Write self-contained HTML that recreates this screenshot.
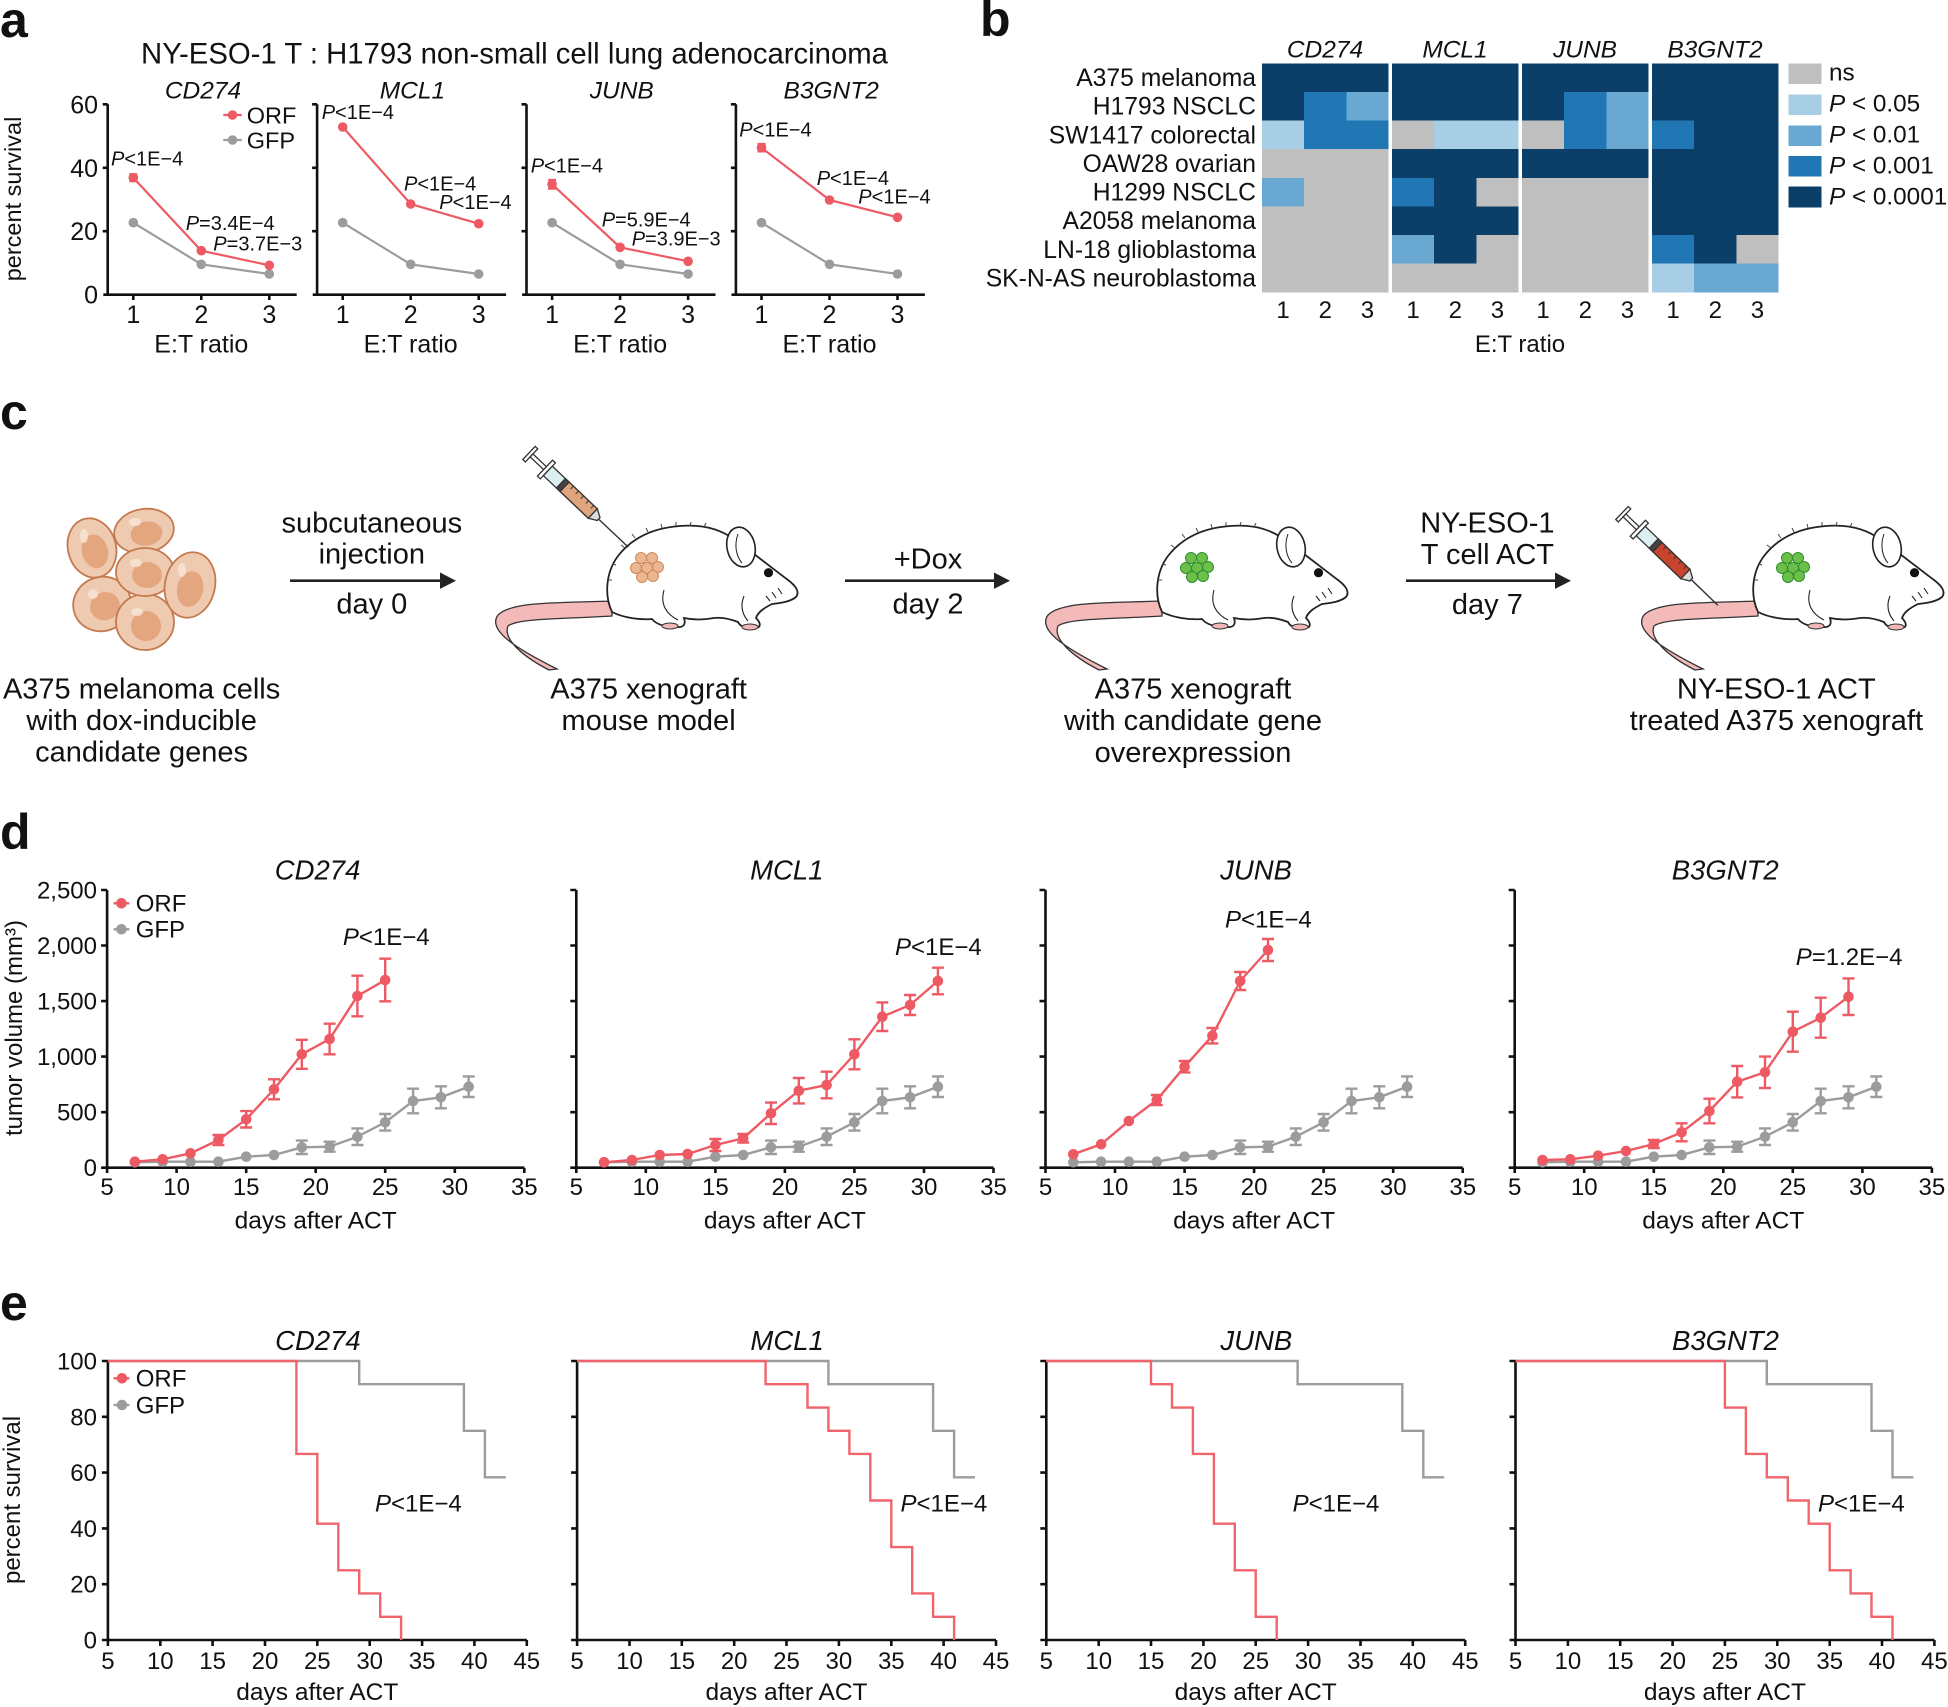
<!DOCTYPE html>
<html><head><meta charset="utf-8"><style>
html,body{margin:0;padding:0;background:#fff}
svg{display:block}
text{font-family:"Liberation Sans",Arial,Helvetica,sans-serif;fill:#111}
.it{font-style:italic}
</style></head><body>
<svg width="1948" height="1707" viewBox="0 0 1948 1707" xmlns="http://www.w3.org/2000/svg">
<rect width="1948" height="1707" fill="#fff"/>
<defs>
<g id="mouse">
  <path d="M612,601 C560,603 512,601 498,615 C487,630 515,648 557,669 L549,670 C520,655 503,638 508,626 C518,618 565,619 612,616 Z" fill="#f4b9b9" stroke="#333" stroke-width="1.3"/>
  <path d="M612,612 C604,595 606,572 618,556 C632,538 652,528 680,526 C705,524 722,530 735,540 C752,552 772,568 788,580 C796,586 800,592 796,597 C790,602 780,603 772,604 C764,608 758,612 756,618 C760,622 762,627 756,628 C748,629 740,627 738,622 C730,619 722,617 714,618 C702,620 694,620 684,618 C686,624 684,628 676,627 C664,627 656,624 652,619 C640,620 624,618 612,612 Z" fill="#fff" stroke="#222" stroke-width="1.8"/>
  <ellipse cx="741" cy="547" rx="14" ry="20" transform="rotate(-12 741 547)" fill="#fff" stroke="#222" stroke-width="1.6"/>
  <path d="M738,534 C734,545 736,556 742,563" fill="none" stroke="#222" stroke-width="1"/>
  <circle cx="768.5" cy="572.7" r="4.6" fill="#111"/>
  <path d="M664,590 C660,604 666,614 678,620 M744,596 C740,606 742,614 748,621 M778,588 l4,6 M772,592 l4,6 M766,596 l4,5" fill="none" stroke="#222" stroke-width="1.1"/>
  <path d="M625,548 l-4,-3 M635,538 l-3,-4 M648,532 l-2,-4 M662,528 l-1,-4 M676,526 l0,-4 M690,526 l1,-4 M704,527 l2,-4 M616,565 l-4,-1 M612,580 l-4,0" fill="none" stroke="#444" stroke-width="1"/>
  <ellipse cx="670" cy="626" rx="8" ry="3" fill="#f1b6b6" stroke="#333" stroke-width="1"/>
  <ellipse cx="750" cy="627" rx="8" ry="3" fill="#f1b6b6" stroke="#333" stroke-width="1"/>
</g>
<g id="cluster">
  <circle cx="641" cy="558" r="5.5"/><circle cx="652" cy="558" r="5.5"/>
  <circle cx="636" cy="568" r="5.5"/><circle cx="647" cy="568" r="5.5"/><circle cx="658" cy="567" r="5.5"/>
  <circle cx="642" cy="577" r="5.5"/><circle cx="653" cy="576" r="5.5"/>
</g>
</defs>

<!-- ===== Panel labels ===== -->
<text x="0" y="37" font-size="50" font-weight="bold">a</text>
<text x="980" y="36" font-size="50" font-weight="bold">b</text>
<text x="0" y="429" font-size="50" font-weight="bold">c</text>
<text x="0" y="849" font-size="50" font-weight="bold">d</text>
<text x="0" y="1320" font-size="50" font-weight="bold">e</text>

<!-- ===== Panel a ===== -->
<text x="514.5" y="63.3" font-size="29.3" text-anchor="middle">NY-ESO-1 T : H1793 non-small cell lung adenocarcinoma</text>
<text transform="translate(21,199) rotate(-90)" font-size="23.5" text-anchor="middle">percent survival</text>
<g font-size="25" text-anchor="end">
<text x="98" y="113.3">60</text><text x="98" y="176.8">40</text><text x="98" y="240.2">20</text><text x="98" y="303.7">0</text>
</g>
<g font-size="24.5" class="it" text-anchor="middle">
<text x="203" y="98.3">CD274</text><text x="412.4" y="98.3">MCL1</text><text x="621.8" y="98.3">JUNB</text><text x="831.2" y="98.3">B3GNT2</text>
</g>
<g font-size="25" text-anchor="middle">
<text x="133.3" y="323">1</text><text x="201.3" y="323">2</text><text x="269.3" y="323">3</text>
<text x="342.7" y="323">1</text><text x="410.7" y="323">2</text><text x="478.7" y="323">3</text>
<text x="552.1" y="323">1</text><text x="620.1" y="323">2</text><text x="688.1" y="323">3</text>
<text x="761.5" y="323">1</text><text x="829.5" y="323">2</text><text x="897.5" y="323">3</text>
<text x="201.3" y="352.7">E:T ratio</text><text x="410.7" y="352.7">E:T ratio</text><text x="620.1" y="352.7">E:T ratio</text><text x="829.5" y="352.7">E:T ratio</text>
</g>
<g stroke="#111" stroke-width="2.6" fill="none">
<path d="M107.7,104.3V294.7 M102.7,104.3H107.7 M102.7,167.8H107.7 M102.7,231.2H107.7 M103.3,294.7H296.7 M133.3,294.7V300 M201.3,294.7V300 M269.3,294.7V300"/>
<path d="M317.1,104.3V294.7 M312.1,104.3H317.1 M312.1,167.8H317.1 M312.1,231.2H317.1 M312.7,294.7H506.1 M342.7,294.7V300 M410.7,294.7V300 M478.7,294.7V300"/>
<path d="M526.5,104.3V294.7 M521.5,104.3H526.5 M521.5,167.8H526.5 M521.5,231.2H526.5 M522.1,294.7H715.5 M552.1,294.7V300 M620.1,294.7V300 M688.1,294.7V300"/>
<path d="M735.9,104.3V294.7 M730.9,104.3H735.9 M730.9,167.8H735.9 M730.9,231.2H735.9 M731.5,294.7H924.9 M761.5,294.7V300 M829.5,294.7V300 M897.5,294.7V300"/>
</g>
<g stroke="#9c9c9e" stroke-width="2.2" fill="none">
<polyline points="133.3,222.7 201.3,264.3 269.3,274"/>
<polyline points="342.7,222.7 410.7,264.3 478.7,274"/>
<polyline points="552.1,222.7 620.1,264.3 688.1,274"/>
<polyline points="761.5,222.7 829.5,264.3 897.5,274"/>
</g>
<g fill="#9c9c9e">
<circle cx="133.3" cy="222.7" r="4.8"/><circle cx="201.3" cy="264.3" r="4.8"/><circle cx="269.3" cy="274" r="4.8"/>
<circle cx="342.7" cy="222.7" r="4.8"/><circle cx="410.7" cy="264.3" r="4.8"/><circle cx="478.7" cy="274" r="4.8"/>
<circle cx="552.1" cy="222.7" r="4.8"/><circle cx="620.1" cy="264.3" r="4.8"/><circle cx="688.1" cy="274" r="4.8"/>
<circle cx="761.5" cy="222.7" r="4.8"/><circle cx="829.5" cy="264.3" r="4.8"/><circle cx="897.5" cy="274" r="4.8"/>
</g>
<g stroke="#ee5a63" stroke-width="2.2" fill="none">
<polyline points="133.3,177.7 201.3,250.7 269.3,265.3"/>
<polyline points="342.7,127 410.7,204 478.7,223.7"/>
<polyline points="552.1,184.3 620.1,247.3 688.1,261.3"/>
<polyline points="761.5,147.7 829.5,200 897.5,217.3"/>
<path d="M133.3,174.2V181.2 M129.3,174.2H137.3 M129.3,181.2H137.3 M552.1,180V188.6 M548.1,180H556.1 M548.1,188.6H556.1 M761.5,144V151.4 M757.5,144H765.5 M757.5,151.4H765.5"/>
</g>
<g fill="#ee5a63">
<circle cx="133.3" cy="177.7" r="4.8"/><circle cx="201.3" cy="250.7" r="4.8"/><circle cx="269.3" cy="265.3" r="4.8"/>
<circle cx="342.7" cy="127" r="4.8"/><circle cx="410.7" cy="204" r="4.8"/><circle cx="478.7" cy="223.7" r="4.8"/>
<circle cx="552.1" cy="184.3" r="4.8"/><circle cx="620.1" cy="247.3" r="4.8"/><circle cx="688.1" cy="261.3" r="4.8"/>
<circle cx="761.5" cy="147.7" r="4.8"/><circle cx="829.5" cy="200" r="4.8"/><circle cx="897.5" cy="217.3" r="4.8"/>
</g>
<path d="M223.3,115H241.7" stroke="#ee5a63" stroke-width="2.2"/><circle cx="232.5" cy="115" r="4.8" fill="#ee5a63"/>
<path d="M223.3,140H241.7" stroke="#9c9c9e" stroke-width="2.2"/><circle cx="232.5" cy="140" r="4.8" fill="#9c9c9e"/>
<text x="246.7" y="123.5" font-size="23.5">ORF</text>
<text x="246.7" y="148.5" font-size="23.5">GFP</text>
<g font-size="20">
<text x="111" y="165.7"><tspan class="it">P</tspan>&lt;1E−4</text>
<text x="185.7" y="230"><tspan class="it">P</tspan>=3.4E−4</text>
<text x="213.3" y="250.7"><tspan class="it">P</tspan>=3.7E−3</text>
<text x="321.7" y="119"><tspan class="it">P</tspan>&lt;1E−4</text>
<text x="404" y="190.7"><tspan class="it">P</tspan>&lt;1E−4</text>
<text x="439.3" y="209"><tspan class="it">P</tspan>&lt;1E−4</text>
<text x="530.7" y="172.3"><tspan class="it">P</tspan>&lt;1E−4</text>
<text x="601.7" y="226.7"><tspan class="it">P</tspan>=5.9E−4</text>
<text x="631.7" y="245.7"><tspan class="it">P</tspan>=3.9E−3</text>
<text x="739.3" y="136.7"><tspan class="it">P</tspan>&lt;1E−4</text>
<text x="816.7" y="185"><tspan class="it">P</tspan>&lt;1E−4</text>
<text x="858.3" y="203.3"><tspan class="it">P</tspan>&lt;1E−4</text>
</g>

<!-- ===== Panel b ===== -->
<g font-size="24.5" class="it" text-anchor="middle">
<text x="1325" y="57.3">CD274</text><text x="1455" y="57.3">MCL1</text><text x="1585" y="57.3">JUNB</text><text x="1715" y="57.3">B3GNT2</text>
</g>
<g font-size="24.7" text-anchor="end">
<text x="1256" y="86.1">A375 melanoma</text>
<text x="1256" y="114.7">H1793 NSCLC</text>
<text x="1256" y="143.3">SW1417 colorectal</text>
<text x="1256" y="171.9">OAW28 ovarian</text>
<text x="1256" y="200.6">H1299 NSCLC</text>
<text x="1256" y="229.2">A2058 melanoma</text>
<text x="1256" y="257.8">LN-18 glioblastoma</text>
<text x="1256" y="286.4">SK-N-AS neuroblastoma</text>
</g>
<g shape-rendering="crispEdges">
<rect x="1262" y="63.3" width="126.5" height="229" fill="#bfbfbf"/>
<rect x="1262" y="63.3" width="126.5" height="28.7" fill="#0c3f67"/>
<rect x="1262" y="91.9" width="42.2" height="28.7" fill="#0c3f67"/>
<rect x="1304.2" y="91.9" width="42.2" height="28.7" fill="#2177b4"/>
<rect x="1346.3" y="91.9" width="42.2" height="28.7" fill="#69a9d1"/>
<rect x="1262" y="120.5" width="42.2" height="28.7" fill="#a7cee4"/>
<rect x="1304.2" y="120.5" width="84.3" height="28.7" fill="#2177b4"/>
<rect x="1262" y="177.8" width="42.2" height="28.7" fill="#69a9d1"/>
<rect x="1392" y="63.3" width="126.5" height="229" fill="#0c3f67"/>
<rect x="1392" y="120.5" width="42.2" height="28.7" fill="#bfbfbf"/>
<rect x="1434.2" y="120.5" width="84.3" height="28.7" fill="#a7cee4"/>
<rect x="1392" y="177.8" width="42.2" height="28.7" fill="#2177b4"/>
<rect x="1476.3" y="177.8" width="42.2" height="28.7" fill="#bfbfbf"/>
<rect x="1392" y="235.1" width="42.2" height="28.7" fill="#69a9d1"/>
<rect x="1476.3" y="235.1" width="42.2" height="28.7" fill="#bfbfbf"/>
<rect x="1392" y="263.7" width="126.5" height="28.6" fill="#bfbfbf"/>
<rect x="1522" y="63.3" width="126.5" height="229" fill="#bfbfbf"/>
<rect x="1522" y="63.3" width="126.5" height="57.3" fill="#0c3f67"/>
<rect x="1564.2" y="91.9" width="42.2" height="28.7" fill="#2177b4"/>
<rect x="1606.3" y="91.9" width="42.2" height="28.7" fill="#69a9d1"/>
<rect x="1564.2" y="120.5" width="42.2" height="28.7" fill="#2177b4"/>
<rect x="1606.3" y="120.5" width="42.2" height="28.7" fill="#69a9d1"/>
<rect x="1522" y="149.2" width="126.5" height="28.7" fill="#0c3f67"/>
<rect x="1652" y="63.3" width="126.5" height="229" fill="#0c3f67"/>
<rect x="1652" y="120.5" width="42.2" height="28.7" fill="#2177b4"/>
<rect x="1652" y="235.1" width="42.2" height="28.7" fill="#2177b4"/>
<rect x="1736.3" y="235.1" width="42.2" height="28.7" fill="#bfbfbf"/>
<rect x="1652" y="263.7" width="42.2" height="28.6" fill="#a7cee4"/>
<rect x="1694.2" y="263.7" width="84.3" height="28.6" fill="#69a9d1"/>
<rect x="1788.6" y="63.3" width="32.8" height="20.7" fill="#bfbfbf"/>
<rect x="1788.6" y="94.3" width="32.8" height="20.7" fill="#a7cee4"/>
<rect x="1788.6" y="125.3" width="32.8" height="20.7" fill="#69a9d1"/>
<rect x="1788.6" y="156" width="32.8" height="20.7" fill="#2177b4"/>
<rect x="1788.6" y="186.7" width="32.8" height="20.7" fill="#0c3f67"/>
</g>
<g font-size="24.3">
<text x="1829" y="80.5">ns</text>
<text x="1829" y="111.7"><tspan class="it">P</tspan> &lt; 0.05</text>
<text x="1829" y="142.7"><tspan class="it">P</tspan> &lt; 0.01</text>
<text x="1829" y="173.3"><tspan class="it">P</tspan> &lt; 0.001</text>
<text x="1829" y="204.3"><tspan class="it">P</tspan> &lt; 0.0001</text>
</g>
<g font-size="24" text-anchor="middle">
<text x="1283.1" y="318">1</text><text x="1325.3" y="318">2</text><text x="1367.4" y="318">3</text>
<text x="1413.1" y="318">1</text><text x="1455.3" y="318">2</text><text x="1497.4" y="318">3</text>
<text x="1543.1" y="318">1</text><text x="1585.3" y="318">2</text><text x="1627.4" y="318">3</text>
<text x="1673.1" y="318">1</text><text x="1715.3" y="318">2</text><text x="1757.4" y="318">3</text>
<text x="1520" y="352">E:T ratio</text>
</g>

<!-- ===== Panel c ===== -->
<g stroke="#c47a4e" stroke-width="1.8">
  <g transform="rotate(-15 92 548)"><ellipse cx="92" cy="548" rx="24" ry="30" fill="#eecab0"/><ellipse cx="94" cy="552" rx="13" ry="17" fill="#e3a67f" stroke="none"/></g>
  <g transform="rotate(-10 144 531)"><ellipse cx="144" cy="531" rx="30" ry="22" fill="#eecab0"/><ellipse cx="146" cy="534" rx="16" ry="12" fill="#e3a67f" stroke="none"/></g>
  <g transform="rotate(-20 102 604)"><ellipse cx="102" cy="604" rx="29" ry="27" fill="#eecab0"/><ellipse cx="104" cy="607" rx="15" ry="14" fill="#e3a67f" stroke="none"/></g>
  <ellipse cx="145" cy="622" rx="29" ry="28" fill="#eecab0"/><ellipse cx="146" cy="626" rx="15" ry="15" fill="#e3a67f" stroke="none"/>
  <ellipse cx="145" cy="572" rx="29" ry="24" fill="#eecab0"/><ellipse cx="147" cy="575" rx="15" ry="13" fill="#e3a67f" stroke="none"/>
  <g transform="rotate(12 190 585)"><ellipse cx="190" cy="585" rx="25" ry="33" fill="#eecab0"/><ellipse cx="191" cy="589" rx="13" ry="18" fill="#e3a67f" stroke="none"/></g>
</g>
<g fill="#f8e7da" opacity="0.8">
<ellipse cx="84" cy="536" rx="4" ry="7"/><ellipse cx="135" cy="522" rx="6" ry="4"/><ellipse cx="136" cy="563" rx="6" ry="4"/>
<ellipse cx="182" cy="570" rx="4" ry="7"/><ellipse cx="93" cy="594" rx="5" ry="5"/><ellipse cx="137" cy="612" rx="6" ry="4"/>
</g>
<g stroke="#222" stroke-width="2.6">
<path d="M290,580.7H443"/><path d="M845,580.7H997"/><path d="M1406,580.7H1558"/>
</g>
<g fill="#222">
<path d="M456,580.7 L440,572.5 L440,588.9Z"/><path d="M1010,580.7 L994,572.5 L994,588.9Z"/><path d="M1571,580.7 L1555,572.5 L1555,588.9Z"/>
</g>
<use href="#mouse"/>
<use href="#mouse" transform="translate(550,0)"/>
<use href="#mouse" transform="translate(1146,0)"/>
<use href="#cluster" fill="#ebb793" stroke="#d08a5a" stroke-width="1"/>
<use href="#cluster" transform="translate(550,0)" fill="#6cc04a" stroke="#2f8f2f" stroke-width="1"/>
<use href="#cluster" transform="translate(1146,0)" fill="#6cc04a" stroke="#2f8f2f" stroke-width="1"/>
<g transform="translate(529,453) rotate(43.5)" stroke="#333" stroke-width="1.3">
  <rect x="0" y="-9" width="3.5" height="18" fill="#fff"/>
  <rect x="3.5" y="-2" width="19" height="4" fill="#fff"/>
  <rect x="22" y="-11" width="4" height="22" fill="#fff"/>
  <rect x="26" y="-6.5" width="62" height="13" fill="#dcf0f2"/>
  <rect x="49" y="-6.5" width="39" height="13" fill="#e0a57c"/>
  <rect x="44" y="-6.5" width="5" height="13" fill="#444"/>
  <path d="M88,-6.5 L96,-2 L96,2 L88,6.5Z" fill="#ddd"/>
  <path d="M96,0H137" stroke-width="1.4"/>
  <path d="M55,-6.5v4 M62,-6.5v4 M69,-6.5v4 M76,-6.5v4 M83,-6.5v4" stroke-width="1"/>
</g>
<g transform="translate(1622,513) rotate(43.9)" stroke="#333" stroke-width="1.3">
  <rect x="0" y="-9" width="3.5" height="18" fill="#fff"/>
  <rect x="3.5" y="-2" width="19" height="4" fill="#fff"/>
  <rect x="22" y="-11" width="4" height="22" fill="#fff"/>
  <rect x="26" y="-6.5" width="62" height="13" fill="#dcf0f2"/>
  <rect x="49" y="-6.5" width="39" height="13" fill="#c8452d"/>
  <rect x="44" y="-6.5" width="5" height="13" fill="#444"/>
  <path d="M88,-6.5 L96,-2 L96,2 L88,6.5Z" fill="#ddd"/>
  <path d="M96,0H133" stroke-width="1.4"/>
  <path d="M55,-6.5v4 M62,-6.5v4 M69,-6.5v4 M76,-6.5v4 M83,-6.5v4" stroke-width="1"/>
</g>
<g font-size="29" text-anchor="middle">
<text x="371.8" y="532.7">subcutaneous</text>
<text x="371.8" y="563.3">injection</text>
<text x="371.8" y="613.3">day 0</text>
<text x="928" y="568.3">+Dox</text>
<text x="928" y="613.3">day 2</text>
<text x="1487.4" y="532.7">NY-ESO-1</text>
<text x="1487.4" y="564">T cell ACT</text>
<text x="1487.4" y="614">day 7</text>
<text x="141.6" y="698.3">A375 melanoma cells</text>
<text x="141.6" y="730">with dox-inducible</text>
<text x="141.6" y="761.7">candidate genes</text>
<text x="648.6" y="698.3">A375 xenograft</text>
<text x="648.6" y="730">mouse model</text>
<text x="1193" y="698.3">A375 xenograft</text>
<text x="1193" y="730">with candidate gene</text>
<text x="1193" y="762">overexpression</text>
<text x="1776.3" y="698.3">NY-ESO-1 ACT</text>
<text x="1776.3" y="730">treated A375 xenograft</text>
</g>

<!-- ===== Panel d ===== -->
<text transform="translate(22,1028) rotate(-90)" font-size="24" text-anchor="middle">tumor volume (mm³)</text>
<g font-size="24" text-anchor="end">
<text x="97" y="898.5">2,500</text><text x="97" y="954">2,000</text><text x="97" y="1009.6">1,500</text>
<text x="97" y="1065.1">1,000</text><text x="97" y="1120.7">500</text><text x="97" y="1176.2">0</text>
</g>
<g font-size="27.5" class="it" text-anchor="middle">
<text x="317.6" y="879.3">CD274</text><text x="786.8" y="879.3">MCL1</text><text x="1256" y="879.3">JUNB</text><text x="1725.2" y="879.3">B3GNT2</text>
</g>
<path d="M113.6,903.3H129.3" stroke="#ee5a63" stroke-width="2.4"/><circle cx="121.4" cy="903.3" r="5.3" fill="#ee5a63"/>
<path d="M113.6,929.3H129.3" stroke="#9c9c9e" stroke-width="2.4"/><circle cx="121.4" cy="929.3" r="5.3" fill="#9c9c9e"/>
<text x="135.7" y="911.7" font-size="24">ORF</text>
<text x="135.7" y="937.7" font-size="24">GFP</text>
<g font-size="24">
<text x="342.9" y="945"><tspan class="it">P</tspan>&lt;1E−4</text>
<text x="895" y="955"><tspan class="it">P</tspan>&lt;1E−4</text>
<text x="1225" y="927.3"><tspan class="it">P</tspan>&lt;1E−4</text>
<text x="1795.7" y="965"><tspan class="it">P</tspan>=1.2E−4</text>
</g>

<g transform="translate(107.1,0)">
  <g stroke="#111" stroke-width="2.6" fill="none">
    <path d="M0,890V1167.7 M-6,890H0 M-6,945.5H0 M-6,1001.1H0 M-6,1056.6H0 M-6,1112.2H0 M-6,1167.7H417.2 M0,1167.7V1173 M69.5,1167.7V1173 M139.1,1167.7V1173 M208.6,1167.7V1173 M278.1,1167.7V1173 M347.7,1167.7V1173 M417.2,1167.7V1173"/>
  </g>
  <g font-size="24" text-anchor="middle">
    <text x="0" y="1195">5</text><text x="69.5" y="1195">10</text><text x="139.1" y="1195">15</text><text x="208.6" y="1195">20</text><text x="278.1" y="1195">25</text><text x="347.7" y="1195">30</text><text x="417.2" y="1195">35</text>
    <text x="208.6" y="1228.3" font-size="24.5">days after ACT</text>
  </g>
  <g stroke="#9c9c9e" stroke-width="2.4" fill="none">
    <polyline points="27.8,1162.3 55.6,1161.7 83.4,1161.7 111.3,1161.7 139.1,1156.7 166.9,1155 194.7,1147.3 222.5,1146.7 250.3,1136.7 278.1,1122.3 306,1101 333.8,1097.3 361.6,1086.7"/>
    <path d="M194.7,1140.6V1154 M188.7,1140.6H200.7 M188.7,1154H200.7 M222.5,1141.7V1151.7 M216.5,1141.7H228.5 M216.5,1151.7H228.5 M250.3,1128.4V1145 M244.3,1128.4H256.3 M244.3,1145H256.3 M278.1,1114V1130.6 M272.1,1114H284.1 M272.1,1130.6H284.1 M306,1088.7V1113.3 M300,1088.7H312 M300,1113.3H312 M333.8,1086.3V1108.3 M327.8,1086.3H339.8 M327.8,1108.3H339.8 M361.6,1076.4V1097 M355.6,1076.4H367.6 M355.6,1097H367.6"/>
  </g>
  <g fill="#9c9c9e">
    <circle cx="27.8" cy="1162.3" r="5.3"/><circle cx="55.6" cy="1161.7" r="5.3"/><circle cx="83.4" cy="1161.7" r="5.3"/><circle cx="111.3" cy="1161.7" r="5.3"/><circle cx="139.1" cy="1156.7" r="5.3"/><circle cx="166.9" cy="1155" r="5.3"/><circle cx="194.7" cy="1147.3" r="5.3"/><circle cx="222.5" cy="1146.7" r="5.3"/><circle cx="250.3" cy="1136.7" r="5.3"/><circle cx="278.1" cy="1122.3" r="5.3"/><circle cx="306" cy="1101" r="5.3"/><circle cx="333.8" cy="1097.3" r="5.3"/><circle cx="361.6" cy="1086.7" r="5.3"/>
  </g>
  <g stroke="#ee5a63" stroke-width="2.4" fill="none">
    <polyline points="27.8,1161.7 55.6,1159.3 83.4,1153.3 111.3,1140 139.1,1119.3 166.9,1089.3 194.7,1054.3 222.5,1039 250.3,996 278.1,980"/>
    <path d="M111.3,1135V1145 M105.3,1135H117.3 M105.3,1145H117.3 M139.1,1111.1V1127.5 M133.1,1111.1H145.1 M133.1,1127.5H145.1 M166.9,1079.3V1099.3 M160.9,1079.3H172.9 M160.9,1099.3H172.9 M194.7,1039.8V1068.8 M188.7,1039.8H200.7 M188.7,1068.8H200.7 M222.5,1023.7V1054.3 M216.5,1023.7H228.5 M216.5,1054.3H228.5 M250.3,975.7V1016.3 M244.3,975.7H256.3 M244.3,1016.3H256.3 M278.1,958.7V1001.3 M272.1,958.7H284.1 M272.1,1001.3H284.1"/>
  </g>
  <g fill="#ee5a63">
    <circle cx="27.8" cy="1161.7" r="5.3"/><circle cx="55.6" cy="1159.3" r="5.3"/><circle cx="83.4" cy="1153.3" r="5.3"/><circle cx="111.3" cy="1140" r="5.3"/><circle cx="139.1" cy="1119.3" r="5.3"/><circle cx="166.9" cy="1089.3" r="5.3"/><circle cx="194.7" cy="1054.3" r="5.3"/><circle cx="222.5" cy="1039" r="5.3"/><circle cx="250.3" cy="996" r="5.3"/><circle cx="278.1" cy="980" r="5.3"/>
  </g>
</g>
<g transform="translate(576.3,0)">
  <g stroke="#111" stroke-width="2.6" fill="none">
    <path d="M0,890V1167.7 M-6,890H0 M-6,945.5H0 M-6,1001.1H0 M-6,1056.6H0 M-6,1112.2H0 M-6,1167.7H417.2 M0,1167.7V1173 M69.5,1167.7V1173 M139.1,1167.7V1173 M208.6,1167.7V1173 M278.1,1167.7V1173 M347.7,1167.7V1173 M417.2,1167.7V1173"/>
  </g>
  <g font-size="24" text-anchor="middle">
    <text x="0" y="1195">5</text><text x="69.5" y="1195">10</text><text x="139.1" y="1195">15</text><text x="208.6" y="1195">20</text><text x="278.1" y="1195">25</text><text x="347.7" y="1195">30</text><text x="417.2" y="1195">35</text>
    <text x="208.6" y="1228.3" font-size="24.5">days after ACT</text>
  </g>
  <g stroke="#9c9c9e" stroke-width="2.4" fill="none">
    <polyline points="27.8,1162.3 55.6,1161.7 83.4,1161.7 111.3,1161.7 139.1,1156.7 166.9,1155 194.7,1147.3 222.5,1146.7 250.3,1136.7 278.1,1122.3 306,1101 333.8,1097.3 361.6,1086.7"/>
    <path d="M194.7,1140.6V1154 M188.7,1140.6H200.7 M188.7,1154H200.7 M222.5,1141.7V1151.7 M216.5,1141.7H228.5 M216.5,1151.7H228.5 M250.3,1128.4V1145 M244.3,1128.4H256.3 M244.3,1145H256.3 M278.1,1114V1130.6 M272.1,1114H284.1 M272.1,1130.6H284.1 M306,1088.7V1113.3 M300,1088.7H312 M300,1113.3H312 M333.8,1086.3V1108.3 M327.8,1086.3H339.8 M327.8,1108.3H339.8 M361.6,1076.4V1097 M355.6,1076.4H367.6 M355.6,1097H367.6"/>
  </g>
  <g fill="#9c9c9e">
    <circle cx="27.8" cy="1162.3" r="5.3"/><circle cx="55.6" cy="1161.7" r="5.3"/><circle cx="83.4" cy="1161.7" r="5.3"/><circle cx="111.3" cy="1161.7" r="5.3"/><circle cx="139.1" cy="1156.7" r="5.3"/><circle cx="166.9" cy="1155" r="5.3"/><circle cx="194.7" cy="1147.3" r="5.3"/><circle cx="222.5" cy="1146.7" r="5.3"/><circle cx="250.3" cy="1136.7" r="5.3"/><circle cx="278.1" cy="1122.3" r="5.3"/><circle cx="306" cy="1101" r="5.3"/><circle cx="333.8" cy="1097.3" r="5.3"/><circle cx="361.6" cy="1086.7" r="5.3"/>
  </g>
  <g stroke="#ee5a63" stroke-width="2.4" fill="none">
    <polyline points="27.8,1162.3 55.6,1160 83.4,1155 111.3,1154 139.1,1145 166.9,1138.3 194.7,1113.3 222.5,1090.7 250.3,1085 278.1,1054.3 306,1016.7 333.8,1005 361.6,981"/>
    <path d="M139.1,1139V1151 M133.1,1139H145.1 M133.1,1151H145.1 M166.9,1134V1142.6 M160.9,1134H172.9 M160.9,1142.6H172.9 M194.7,1102.6V1124 M188.7,1102.6H200.7 M188.7,1124H200.7 M222.5,1078V1103.4 M216.5,1078H228.5 M216.5,1103.4H228.5 M250.3,1071.7V1098.3 M244.3,1071.7H256.3 M244.3,1098.3H256.3 M278.1,1039.3V1069.3 M272.1,1039.3H284.1 M272.1,1069.3H284.1 M306,1002.4V1031 M300,1002.4H312 M300,1031H312 M333.8,995V1015 M327.8,995H339.8 M327.8,1015H339.8 M361.6,967.7V994.3 M355.6,967.7H367.6 M355.6,994.3H367.6"/>
  </g>
  <g fill="#ee5a63">
    <circle cx="27.8" cy="1162.3" r="5.3"/><circle cx="55.6" cy="1160" r="5.3"/><circle cx="83.4" cy="1155" r="5.3"/><circle cx="111.3" cy="1154" r="5.3"/><circle cx="139.1" cy="1145" r="5.3"/><circle cx="166.9" cy="1138.3" r="5.3"/><circle cx="194.7" cy="1113.3" r="5.3"/><circle cx="222.5" cy="1090.7" r="5.3"/><circle cx="250.3" cy="1085" r="5.3"/><circle cx="278.1" cy="1054.3" r="5.3"/><circle cx="306" cy="1016.7" r="5.3"/><circle cx="333.8" cy="1005" r="5.3"/><circle cx="361.6" cy="981" r="5.3"/>
  </g>
</g>
<g transform="translate(1045.5,0)">
  <g stroke="#111" stroke-width="2.6" fill="none">
    <path d="M0,890V1167.7 M-6,890H0 M-6,945.5H0 M-6,1001.1H0 M-6,1056.6H0 M-6,1112.2H0 M-6,1167.7H417.2 M0,1167.7V1173 M69.5,1167.7V1173 M139.1,1167.7V1173 M208.6,1167.7V1173 M278.1,1167.7V1173 M347.7,1167.7V1173 M417.2,1167.7V1173"/>
  </g>
  <g font-size="24" text-anchor="middle">
    <text x="0" y="1195">5</text><text x="69.5" y="1195">10</text><text x="139.1" y="1195">15</text><text x="208.6" y="1195">20</text><text x="278.1" y="1195">25</text><text x="347.7" y="1195">30</text><text x="417.2" y="1195">35</text>
    <text x="208.6" y="1228.3" font-size="24.5">days after ACT</text>
  </g>
  <g stroke="#9c9c9e" stroke-width="2.4" fill="none">
    <polyline points="27.8,1162.3 55.6,1161.7 83.4,1161.7 111.3,1161.7 139.1,1156.7 166.9,1155 194.7,1147.3 222.5,1146.7 250.3,1136.7 278.1,1122.3 306,1101 333.8,1097.3 361.6,1086.7"/>
    <path d="M194.7,1140.6V1154 M188.7,1140.6H200.7 M188.7,1154H200.7 M222.5,1141.7V1151.7 M216.5,1141.7H228.5 M216.5,1151.7H228.5 M250.3,1128.4V1145 M244.3,1128.4H256.3 M244.3,1145H256.3 M278.1,1114V1130.6 M272.1,1114H284.1 M272.1,1130.6H284.1 M306,1088.7V1113.3 M300,1088.7H312 M300,1113.3H312 M333.8,1086.3V1108.3 M327.8,1086.3H339.8 M327.8,1108.3H339.8 M361.6,1076.4V1097 M355.6,1076.4H367.6 M355.6,1097H367.6"/>
  </g>
  <g fill="#9c9c9e">
    <circle cx="27.8" cy="1162.3" r="5.3"/><circle cx="55.6" cy="1161.7" r="5.3"/><circle cx="83.4" cy="1161.7" r="5.3"/><circle cx="111.3" cy="1161.7" r="5.3"/><circle cx="139.1" cy="1156.7" r="5.3"/><circle cx="166.9" cy="1155" r="5.3"/><circle cx="194.7" cy="1147.3" r="5.3"/><circle cx="222.5" cy="1146.7" r="5.3"/><circle cx="250.3" cy="1136.7" r="5.3"/><circle cx="278.1" cy="1122.3" r="5.3"/><circle cx="306" cy="1101" r="5.3"/><circle cx="333.8" cy="1097.3" r="5.3"/><circle cx="361.6" cy="1086.7" r="5.3"/>
  </g>
  <g stroke="#ee5a63" stroke-width="2.4" fill="none">
    <polyline points="27.8,1154.3 55.6,1144.3 83.4,1121 111.3,1100 139.1,1066.7 166.9,1035.7 194.7,981 222.5,950"/>
    <path d="M111.3,1095V1105 M105.3,1095H117.3 M105.3,1105H117.3 M139.1,1061V1072.4 M133.1,1061H145.1 M133.1,1072.4H145.1 M166.9,1028V1043.4 M160.9,1028H172.9 M160.9,1043.4H172.9 M194.7,972V990 M188.7,972H200.7 M188.7,990H200.7 M222.5,939V961 M216.5,939H228.5 M216.5,961H228.5"/>
  </g>
  <g fill="#ee5a63">
    <circle cx="27.8" cy="1154.3" r="5.3"/><circle cx="55.6" cy="1144.3" r="5.3"/><circle cx="83.4" cy="1121" r="5.3"/><circle cx="111.3" cy="1100" r="5.3"/><circle cx="139.1" cy="1066.7" r="5.3"/><circle cx="166.9" cy="1035.7" r="5.3"/><circle cx="194.7" cy="981" r="5.3"/><circle cx="222.5" cy="950" r="5.3"/>
  </g>
</g>
<g transform="translate(1514.7,0)">
  <g stroke="#111" stroke-width="2.6" fill="none">
    <path d="M0,890V1167.7 M-6,890H0 M-6,945.5H0 M-6,1001.1H0 M-6,1056.6H0 M-6,1112.2H0 M-6,1167.7H417.2 M0,1167.7V1173 M69.5,1167.7V1173 M139.1,1167.7V1173 M208.6,1167.7V1173 M278.1,1167.7V1173 M347.7,1167.7V1173 M417.2,1167.7V1173"/>
  </g>
  <g font-size="24" text-anchor="middle">
    <text x="0" y="1195">5</text><text x="69.5" y="1195">10</text><text x="139.1" y="1195">15</text><text x="208.6" y="1195">20</text><text x="278.1" y="1195">25</text><text x="347.7" y="1195">30</text><text x="417.2" y="1195">35</text>
    <text x="208.6" y="1228.3" font-size="24.5">days after ACT</text>
  </g>
  <g stroke="#9c9c9e" stroke-width="2.4" fill="none">
    <polyline points="27.8,1162.3 55.6,1161.7 83.4,1161.7 111.3,1161.7 139.1,1156.7 166.9,1155 194.7,1147.3 222.5,1146.7 250.3,1136.7 278.1,1122.3 306,1101 333.8,1097.3 361.6,1086.7"/>
    <path d="M194.7,1140.6V1154 M188.7,1140.6H200.7 M188.7,1154H200.7 M222.5,1141.7V1151.7 M216.5,1141.7H228.5 M216.5,1151.7H228.5 M250.3,1128.4V1145 M244.3,1128.4H256.3 M244.3,1145H256.3 M278.1,1114V1130.6 M272.1,1114H284.1 M272.1,1130.6H284.1 M306,1088.7V1113.3 M300,1088.7H312 M300,1113.3H312 M333.8,1086.3V1108.3 M327.8,1086.3H339.8 M327.8,1108.3H339.8 M361.6,1076.4V1097 M355.6,1076.4H367.6 M355.6,1097H367.6"/>
  </g>
  <g fill="#9c9c9e">
    <circle cx="27.8" cy="1162.3" r="5.3"/><circle cx="55.6" cy="1161.7" r="5.3"/><circle cx="83.4" cy="1161.7" r="5.3"/><circle cx="111.3" cy="1161.7" r="5.3"/><circle cx="139.1" cy="1156.7" r="5.3"/><circle cx="166.9" cy="1155" r="5.3"/><circle cx="194.7" cy="1147.3" r="5.3"/><circle cx="222.5" cy="1146.7" r="5.3"/><circle cx="250.3" cy="1136.7" r="5.3"/><circle cx="278.1" cy="1122.3" r="5.3"/><circle cx="306" cy="1101" r="5.3"/><circle cx="333.8" cy="1097.3" r="5.3"/><circle cx="361.6" cy="1086.7" r="5.3"/>
  </g>
  <g stroke="#ee5a63" stroke-width="2.4" fill="none">
    <polyline points="27.8,1160 55.6,1159.3 83.4,1155.7 111.3,1151 139.1,1144 166.9,1132.3 194.7,1111 222.5,1081.7 250.3,1072.3 278.1,1031.7 306,1017.7 333.8,996.7"/>
    <path d="M139.1,1140V1148 M133.1,1140H145.1 M133.1,1148H145.1 M166.9,1123.3V1141.3 M160.9,1123.3H172.9 M160.9,1141.3H172.9 M194.7,1098.7V1123.3 M188.7,1098.7H200.7 M188.7,1123.3H200.7 M222.5,1066V1097.4 M216.5,1066H228.5 M216.5,1097.4H228.5 M250.3,1056.6V1088 M244.3,1056.6H256.3 M244.3,1088H256.3 M278.1,1011.7V1051.7 M272.1,1011.7H284.1 M272.1,1051.7H284.1 M306,997.7V1037.7 M300,997.7H312 M300,1037.7H312 M333.8,978.4V1015 M327.8,978.4H339.8 M327.8,1015H339.8"/>
  </g>
  <g fill="#ee5a63">
    <circle cx="27.8" cy="1160" r="5.3"/><circle cx="55.6" cy="1159.3" r="5.3"/><circle cx="83.4" cy="1155.7" r="5.3"/><circle cx="111.3" cy="1151" r="5.3"/><circle cx="139.1" cy="1144" r="5.3"/><circle cx="166.9" cy="1132.3" r="5.3"/><circle cx="194.7" cy="1111" r="5.3"/><circle cx="222.5" cy="1081.7" r="5.3"/><circle cx="250.3" cy="1072.3" r="5.3"/><circle cx="278.1" cy="1031.7" r="5.3"/><circle cx="306" cy="1017.7" r="5.3"/><circle cx="333.8" cy="996.7" r="5.3"/>
  </g>
</g>

<!-- ===== Panel e ===== -->
<text transform="translate(20,1500) rotate(-90)" font-size="24" text-anchor="middle">percent survival</text>
<g font-size="24" text-anchor="end">
<text x="97" y="1369.5">100</text><text x="97" y="1425.3">80</text><text x="97" y="1481.1">60</text>
<text x="97" y="1536.9">40</text><text x="97" y="1592.7">20</text><text x="97" y="1648.5">0</text>
</g>
<g font-size="27.5" class="it" text-anchor="middle">
<text x="317.9" y="1350">CD274</text><text x="787.1" y="1350">MCL1</text><text x="1256.3" y="1350">JUNB</text><text x="1725.5" y="1350">B3GNT2</text>
</g>
<g font-size="24">
<text x="375" y="1511.7"><tspan class="it">P</tspan>&lt;1E−4</text>
<text x="900.5" y="1511.7"><tspan class="it">P</tspan>&lt;1E−4</text>
<text x="1292.6" y="1511.7"><tspan class="it">P</tspan>&lt;1E−4</text>
<text x="1818" y="1511.7"><tspan class="it">P</tspan>&lt;1E−4</text>
</g>
<g transform="translate(107.9,0)">
  <path d="M0,1361V1640 M-6,1361H0 M-6,1416.8H0 M-6,1472.6H0 M-6,1528.4H0 M-6,1584.2H0 M-6,1640H418.9 M0,1640V1646 M52.4,1640V1646 M104.7,1640V1646 M157.1,1640V1646 M209.4,1640V1646 M261.8,1640V1646 M314.2,1640V1646 M366.5,1640V1646 M418.9,1640V1646" stroke="#111" stroke-width="2.6" fill="none"/>
  <g font-size="24" text-anchor="middle">
    <text x="0" y="1669">5</text><text x="52.4" y="1669">10</text><text x="104.7" y="1669">15</text><text x="157.1" y="1669">20</text><text x="209.4" y="1669">25</text><text x="261.8" y="1669">30</text><text x="314.2" y="1669">35</text><text x="366.5" y="1669">40</text><text x="418.9" y="1669">45</text>
    <text x="209.4" y="1700" font-size="24.5">days after ACT</text>
  </g>
  <path d="M0,1361H251.3V1384.2H356V1430.8H377V1477.3H397.9" stroke="#9c9c9e" stroke-width="2.4" fill="none"/>
  <path d="M0,1361H188.5V1453.9H209.4V1523.7H230.4V1570.3H251.3V1593.4H272.3V1616.8H293.2V1640" stroke="#f0646c" stroke-width="2.4" fill="none"/>
</g>
<g transform="translate(577.1,0)">
  <path d="M0,1361V1640 M-6,1361H0 M-6,1416.8H0 M-6,1472.6H0 M-6,1528.4H0 M-6,1584.2H0 M-6,1640H418.9 M0,1640V1646 M52.4,1640V1646 M104.7,1640V1646 M157.1,1640V1646 M209.4,1640V1646 M261.8,1640V1646 M314.2,1640V1646 M366.5,1640V1646 M418.9,1640V1646" stroke="#111" stroke-width="2.6" fill="none"/>
  <g font-size="24" text-anchor="middle">
    <text x="0" y="1669">5</text><text x="52.4" y="1669">10</text><text x="104.7" y="1669">15</text><text x="157.1" y="1669">20</text><text x="209.4" y="1669">25</text><text x="261.8" y="1669">30</text><text x="314.2" y="1669">35</text><text x="366.5" y="1669">40</text><text x="418.9" y="1669">45</text>
    <text x="209.4" y="1700" font-size="24.5">days after ACT</text>
  </g>
  <path d="M0,1361H251.3V1384.2H356V1430.8H377V1477.3H397.9" stroke="#9c9c9e" stroke-width="2.4" fill="none"/>
  <path d="M0,1361H188.5V1384.2H230.4V1407.6H251.3V1430.8H272.3V1453.9H293.2V1500.5H314.2V1547.1H335.1V1593.4H356V1616.8H377V1640" stroke="#f0646c" stroke-width="2.4" fill="none"/>
</g>
<g transform="translate(1046.3,0)">
  <path d="M0,1361V1640 M-6,1361H0 M-6,1416.8H0 M-6,1472.6H0 M-6,1528.4H0 M-6,1584.2H0 M-6,1640H418.9 M0,1640V1646 M52.4,1640V1646 M104.7,1640V1646 M157.1,1640V1646 M209.4,1640V1646 M261.8,1640V1646 M314.2,1640V1646 M366.5,1640V1646 M418.9,1640V1646" stroke="#111" stroke-width="2.6" fill="none"/>
  <g font-size="24" text-anchor="middle">
    <text x="0" y="1669">5</text><text x="52.4" y="1669">10</text><text x="104.7" y="1669">15</text><text x="157.1" y="1669">20</text><text x="209.4" y="1669">25</text><text x="261.8" y="1669">30</text><text x="314.2" y="1669">35</text><text x="366.5" y="1669">40</text><text x="418.9" y="1669">45</text>
    <text x="209.4" y="1700" font-size="24.5">days after ACT</text>
  </g>
  <path d="M0,1361H251.3V1384.2H356V1430.8H377V1477.3H397.9" stroke="#9c9c9e" stroke-width="2.4" fill="none"/>
  <path d="M0,1361H104.7V1384.2H125.7V1407.6H146.6V1453.9H167.6V1523.7H188.5V1570.3H209.4V1616.8H230.4V1640" stroke="#f0646c" stroke-width="2.4" fill="none"/>
</g>
<g transform="translate(1515.5,0)">
  <path d="M0,1361V1640 M-6,1361H0 M-6,1416.8H0 M-6,1472.6H0 M-6,1528.4H0 M-6,1584.2H0 M-6,1640H418.9 M0,1640V1646 M52.4,1640V1646 M104.7,1640V1646 M157.1,1640V1646 M209.4,1640V1646 M261.8,1640V1646 M314.2,1640V1646 M366.5,1640V1646 M418.9,1640V1646" stroke="#111" stroke-width="2.6" fill="none"/>
  <g font-size="24" text-anchor="middle">
    <text x="0" y="1669">5</text><text x="52.4" y="1669">10</text><text x="104.7" y="1669">15</text><text x="157.1" y="1669">20</text><text x="209.4" y="1669">25</text><text x="261.8" y="1669">30</text><text x="314.2" y="1669">35</text><text x="366.5" y="1669">40</text><text x="418.9" y="1669">45</text>
    <text x="209.4" y="1700" font-size="24.5">days after ACT</text>
  </g>
  <path d="M0,1361H251.3V1384.2H356V1430.8H377V1477.3H397.9" stroke="#9c9c9e" stroke-width="2.4" fill="none"/>
  <path d="M0,1361H209.4V1407.6H230.4V1453.9H251.3V1477.3H272.3V1500.5H293.2V1523.7H314.2V1570.3H335.1V1593.4H356V1616.8H377V1640" stroke="#f0646c" stroke-width="2.4" fill="none"/>
</g>
<path d="M113.6,1378.3H129.3" stroke="#ee5a63" stroke-width="2.4"/><circle cx="122" cy="1378.3" r="5.3" fill="#ee5a63"/>
<path d="M113.6,1405H129.3" stroke="#9c9c9e" stroke-width="2.4"/><circle cx="122" cy="1405" r="5.3" fill="#9c9c9e"/>
<text x="135.7" y="1386.7" font-size="24">ORF</text>
<text x="135.7" y="1413.3" font-size="24">GFP</text>
</svg>
</body></html>
